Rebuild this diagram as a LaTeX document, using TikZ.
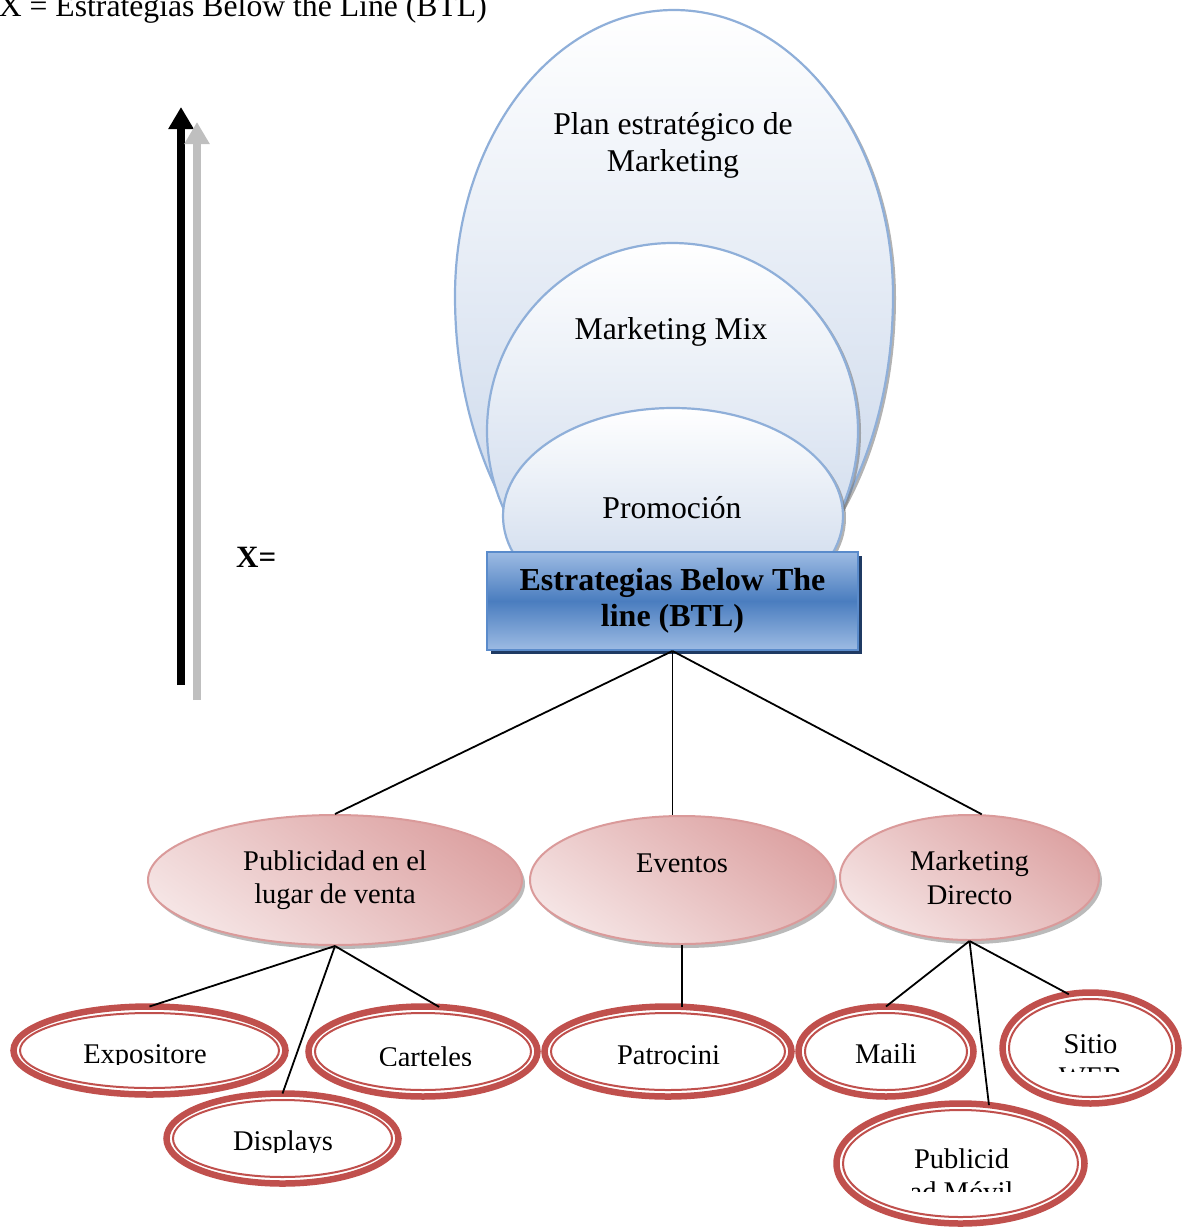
\documentclass[tikz,border=0pt]{standalone}
\usepackage{fontspec}
\setmainfont{Liberation Serif}
\usetikzlibrary{shapes.geometric,shadows,arrows.meta,calc}

\definecolor{bubbleline}{HTML}{8FAFD9}
\definecolor{bubblebottom}{HTML}{C3D2E8}
\definecolor{btlline}{HTML}{5A8BCB}
\definecolor{btlmid}{HTML}{4A7DBF}
\definecolor{btlpale}{HTML}{9DBBE3}
\definecolor{btlshadow}{HTML}{1F3A63}
\definecolor{roseline}{HTML}{DA9A9A}
\definecolor{rosedark}{HTML}{DDA3A3}
\definecolor{roselight}{HTML}{F5E4E4}
\definecolor{ringred}{HTML}{C0504D}
\definecolor{arrowgrey}{HTML}{BFBFBF}

\tikzset{
  bubble/.style={draw=bubbleline, line width=2.2pt, top color=white, bottom color=bubblebottom,
    drop shadow={shadow xshift=3pt, shadow yshift=-2pt, fill=black!55, opacity=.55}},
  bubbletext/.style={font=\fontsize{31.7}{37}\selectfont, align=center, anchor=base, inner sep=0pt},
  btlbox/.style={draw=btlline, line width=2pt, top color=btlpale, bottom color=btlpale, middle color=btlmid,
    minimum width=371pt, minimum height=98pt, inner sep=0pt, align=center,
    font=\fontsize{32}{36.5}\selectfont\bfseries,
    drop shadow={shadow xshift=4pt, shadow yshift=-4pt, fill=btlshadow, opacity=1}},
  rose/.style={ellipse, draw=roseline, line width=2pt, top color=rosedark, bottom color=roselight,
    shading angle=-35, inner sep=0pt, align=center, font=\fontsize{28.5}{33.5}\selectfont,
    drop shadow={shadow xshift=3pt, shadow yshift=-4pt, fill=black!45, opacity=.6}},
  ring/.style={ellipse, draw=ringred, line width=6.5pt, fill=white, inner sep=0pt, outer sep=0pt},
  ringinner/.style={draw=ringred, line width=2pt},
  ringtext/.style={font=\fontsize{28.5}{33}\selectfont, anchor=base, inner sep=0pt},
  plaintext/.style={font=\fontsize{31.7}{37}\selectfont, inner sep=0pt},
  link/.style={draw=black, line width=1.8pt},
  upshaft/.style={line width=8pt, -{Triangle[width=24pt,length=22pt]}},
}

% a leaf: thick red ellipse with a thin ring inside
\newcommand\ringleaf[5]{%
  \node[ring, minimum width=#4pt, minimum height=#5pt] (#1) at (#2,#3) {};
  \draw[ringinner] (#1.center) ellipse [x radius={#4pt/2-6.5pt}, y radius={#5pt/2-6.5pt}];
}
% clipped leaf label: name, x, first baseline, clip bottom, text
\newcommand\leaflabel[5]{%
  \begin{scope}
    \clip (#2-150,#3-60) rectangle (#2+150,#4);
    \node[ringtext] (#1) at (#2,#3) {#5};
  \end{scope}
}

\begin{document}
\begin{tikzpicture}[x=1pt, y=-1pt]
\useasboundingbox (0,0) rectangle (1189,1227);

% heading
\node[plaintext, anchor=base east] (title) at (487,16) {X = Estrategias Below the Line (BTL)};

% the two rising arrows
\draw[upshaft, black] (181,685) -- (181,107);
\draw[upshaft, arrowgrey] (197,700) -- (197,122);
\node[plaintext, anchor=base west, font=\fontsize{31}{36}\selectfont\bfseries] (xeq) at (236,567) {X=};

% nested bubbles
\path[bubble] (455,296) arc[start angle=180, end angle=360, x radius=219, y radius=286]
  arc[start angle=0, end angle=180, x radius=219, y radius=330] -- cycle;
\path[bubble] (672.5,431) ellipse [x radius=185.5, y radius=188];
\path[bubble] (673,516) ellipse [x radius=170, y radius=108];

\node[bubbletext] (plan) at (673,171) {Plan estratégico de\\Marketing};
\node[bubbletext] (mix) at (671,339) {Marketing Mix};
\node[bubbletext] (promo) at (672,518) {Promoción};

% main box
\node[btlbox] (btl) at (672.5,601) {Estrategias Below The\\line (BTL)};

% second level
\node[rose, minimum width=374pt, minimum height=130pt] (pub) at (335,880) {Publicidad en el\\lugar de venta};
\node[rose, minimum width=304pt, minimum height=128pt] (evt) at (682,880) {\raisebox{34pt}{Eventos}};
\node[rose, minimum width=259pt, minimum height=125pt] (mdir) at (969.5,877.5) {Marketing\\Directo};

\draw[link] (btl.south) -- (pub.north);
\draw[link] (btl.south) -- (btl.south |- evt.north);
\draw[link] (btl.south) -- (mdir.79);

% third level
\ringleaf{expo}{149.5}{1050.5}{272}{88}
\ringleaf{cart}{423}{1051.5}{229}{90}
\ringleaf{disp}{282.5}{1138.5}{232}{90}
\ringleaf{patr}{668}{1051.5}{247}{90}
\ringleaf{mail}{886}{1051.5}{175}{90}
\ringleaf{web}{1090.5}{1048}{176}{111}
\ringleaf{movil}{960.5}{1163.5}{248}{120}

\draw[link] (pub.south) -- (expo.north);
\draw[link] (pub.south) -- (cart.70);
\draw[link] (pub.south) -- (disp.north);
\draw[link] (evt.south) -- (evt.south |- patr.north);
\draw[link] (mdir.south) -- (mail.north);
\draw[link] (mdir.south) -- (web.112);
\draw[link] (mdir.south) -- (movil.64);

\leaflabel{expo-t}{145}{1063}{1064}{Expositore}
\leaflabel{cart-t}{425.5}{1066}{1065}{Carteles}
\leaflabel{disp-t}{283}{1150}{1152}{Displays}
\leaflabel{patr-t}{668.5}{1064}{1080}{Patrocini}
\leaflabel{mail-t}{886}{1063}{1080}{Maili}
\leaflabel{web-t}{1090.5}{1053}{1071}{\begin{tabular}[t]{@{}c@{}}Sitio\\WEB\end{tabular}}
\leaflabel{movil-t}{961.5}{1168}{1191}{\begin{tabular}[t]{@{}c@{}}Publicid\\ad Móvil\end{tabular}}
\end{tikzpicture}
\end{document}
